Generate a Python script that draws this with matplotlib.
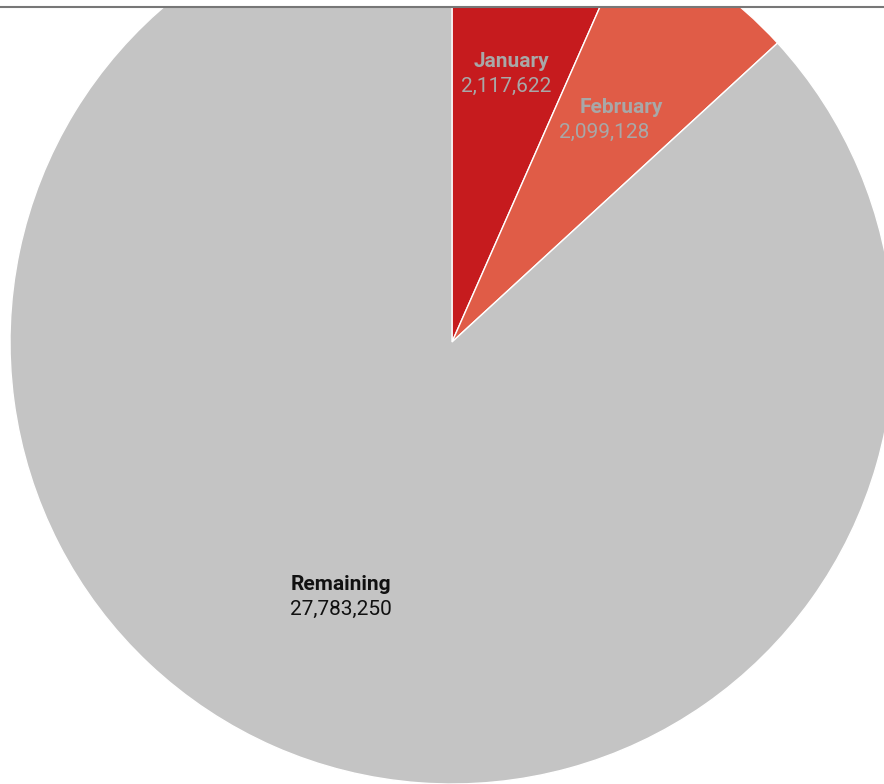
import numpy as np
import matplotlib.pyplot as plt

plt.rcParams['font.family'] = ['Roboto', 'DejaVu Sans']

labels = ["January", "February", "Remaining"]
values = [2117622, 2099128, 27783250]
colors = ["#c61b1e", "#e05c47", "#c4c4c4"]
text_colors = ["#a8a8a8", "#a8a8a8", "#111111"]

W, H = 884, 784
fig = plt.figure(figsize=(W / 100, H / 100), dpi=100)
fig.patch.set_facecolor("white")

# plot area below the grey rule at the top
top = 8
ax = fig.add_axes([0, 0, 1, (H - top) / H])
ax.set_facecolor("#f7f8f7")

# pixel coordinates, y measured from the bottom
cx, cy, R = 452, H - 342, 442
wedges, _ = ax.pie(values, colors=colors, startangle=90, counterclock=False,
                   center=(cx, cy), radius=R,
                   wedgeprops=dict(edgecolor="white", linewidth=1))
for w in wedges:
    w.set_clip_on(True)

ax.set_xlim(0, W)
ax.set_ylim(0, H - top)
ax.set_aspect("equal")
ax.set_frame_on(False)
ax.set_xticks([])
ax.set_yticks([])

# labels along bisector of each wedge
gap = 12.5
for w, name, val, tc in zip(wedges, labels, values, text_colors):
    ang = np.deg2rad((w.theta1 + w.theta2) / 2)
    r = 0.624 * R
    x0 = cx + r * np.cos(ang)
    y0 = cy + r * np.sin(ang) - 2
    if np.cos(ang) > 0:
        # right-hand wedges: each line sits on the bisector ray
        xn = x0 + gap / np.tan(ang)
        xv = x0 - gap / np.tan(ang)
    else:
        xn = xv = x0
    ax.text(xn, y0 + gap, name, ha="center", va="center", fontsize=15,
            fontweight="bold", color=tc)
    ax.text(xv, y0 - gap, f"{val:,}", ha="center", va="center", fontsize=15,
            color=tc)

fig.add_artist(plt.Line2D([0, 1], [1 - 7 / H, 1 - 7 / H], color="#777777",
                          linewidth=1.5, transform=fig.transFigure))

fig.savefig("out.png", dpi=100, facecolor=fig.get_facecolor())
